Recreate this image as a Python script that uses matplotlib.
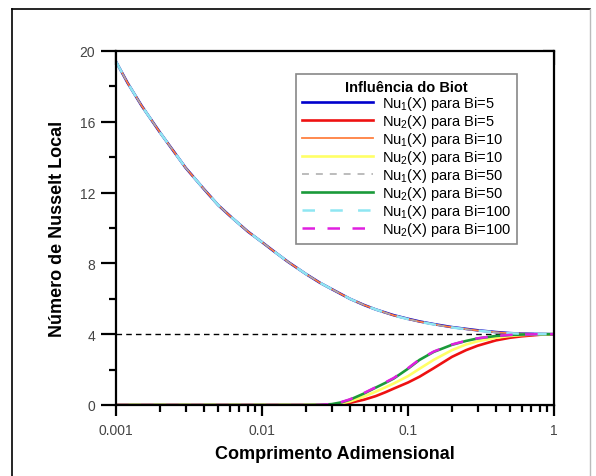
import matplotlib
matplotlib.use("Agg")
import matplotlib.pyplot as plt
from matplotlib.lines import Line2D
from matplotlib.ticker import FixedLocator, NullFormatter

plt.rcParams['font.family'] = ['Liberation Sans', 'DejaVu Sans']
plt.rcParams['mathtext.fontset'] = 'custom'
plt.rcParams['mathtext.rm'] = 'Liberation Sans'
plt.rcParams['mathtext.it'] = 'Liberation Sans:italic'
plt.rcParams['mathtext.bf'] = 'Liberation Sans:bold'
plt.rcParams['lines.scale_dashes'] = False

# ---------------- data ----------------
x_nu1 = [0.001, 0.0012, 0.0015, 0.002, 0.0025, 0.003, 0.004, 0.005, 0.006, 0.008,
         0.01, 0.012, 0.015, 0.02, 0.025, 0.03, 0.04, 0.05, 0.06, 0.08,
         0.1, 0.12, 0.15, 0.2, 0.25, 0.3, 0.4, 0.5, 0.6, 0.8, 1.0]
nu1_bi5 = [19.4, 18.2, 16.9, 15.4, 14.3, 13.4, 12.2, 11.3, 10.7, 9.8,
           9.2, 8.7, 8.1, 7.4, 6.9, 6.55, 6.0, 5.65, 5.4, 5.07,
           4.87, 4.72, 4.57, 4.4, 4.3, 4.22, 4.12, 4.06, 4.03, 4.01, 4.0]
nu1_bi10 = [19.4, 18.2, 16.9, 15.4, 14.3, 13.4, 12.2, 11.3, 10.7, 9.8,
            9.2, 8.7, 8.1, 7.4, 6.9, 6.55, 6.0, 5.65, 5.4, 5.06,
            4.86, 4.71, 4.56, 4.39, 4.29, 4.21, 4.11, 4.05, 4.03, 4.01, 4.0]
nu1_bi50 = [19.4, 18.2, 16.9, 15.4, 14.3, 13.4, 12.2, 11.3, 10.7, 9.8,
            9.2, 8.7, 8.1, 7.4, 6.9, 6.55, 6.0, 5.65, 5.4, 5.05,
            4.85, 4.7, 4.55, 4.38, 4.28, 4.2, 4.1, 4.05, 4.03, 4.01, 4.0]
nu1_bi100 = [19.4, 18.2, 16.9, 15.4, 14.3, 13.4, 12.2, 11.3, 10.7, 9.8,
             9.2, 8.7, 8.1, 7.4, 6.9, 6.55, 6.0, 5.65, 5.4, 5.05,
             4.85, 4.7, 4.55, 4.38, 4.28, 4.2, 4.1, 4.05, 4.03, 4.01, 4.0]

x_nu2 = [0.001, 0.01, 0.02, 0.025, 0.03, 0.035, 0.04, 0.05, 0.06, 0.07, 0.08,
         0.1, 0.12, 0.15, 0.2, 0.25, 0.3, 0.4, 0.5, 0.6, 0.8, 1.0]
nu2_bi5 = [0, 0, 0, 0, 0.02, 0.05, 0.12, 0.3, 0.5, 0.72, 0.93,
           1.27, 1.6, 2.08, 2.72, 3.1, 3.35, 3.65, 3.8, 3.88, 3.97, 4.0]
nu2_bi10 = [0, 0, 0, 0.005, 0.03, 0.09, 0.2, 0.48, 0.75, 1.0, 1.22,
            1.63, 2.05, 2.55, 3.1, 3.42, 3.6, 3.8, 3.9, 3.95, 3.99, 4.0]
nu2_bi50 = [0, 0, 0, 0.01, 0.05, 0.15, 0.3, 0.65, 0.98, 1.25, 1.5,
            2.05, 2.55, 3.0, 3.4, 3.62, 3.76, 3.9, 3.96, 3.98, 4.0, 4.0]
nu2_bi100 = [0, 0, 0, 0.01, 0.06, 0.17, 0.32, 0.68, 1.0, 1.28, 1.53,
             2.08, 2.58, 3.02, 3.42, 3.63, 3.77, 3.9, 3.96, 3.98, 4.0, 4.0]

asymptote = 4.0
x_ticks = [0.001, 0.01, 0.1, 1]
x_ticklabels = ['0.001', '0.01', '0.1', '1']
y_ticks = [0, 4, 8, 12, 16, 20]
labels = ['Nu$_1$(X) para Bi=5', 'Nu$_2$(X) para Bi=5',
          'Nu$_1$(X) para Bi=10', 'Nu$_2$(X) para Bi=10',
          'Nu$_1$(X) para Bi=50', 'Nu$_2$(X) para Bi=50',
          'Nu$_1$(X) para Bi=100', 'Nu$_2$(X) para Bi=100']

# ---------------- figure ----------------
W, H = 596, 477
fig = plt.figure(figsize=(W / 100, H / 100), dpi=100)
L, R, T, B = 116, 554, 52, 406
ax = fig.add_axes([L / W, 1 - B / H, (R - L) / W, (B - T) / H])

ax.plot(x_nu1, nu1_bi5, color='#0000cc', lw=1.9, label=labels[0])
ax.plot(x_nu2, nu2_bi5, color='#ee1111', lw=1.9, label=labels[1])
ax.plot(x_nu1, nu1_bi10, color='#ff8040', lw=1.3, label=labels[2])
ax.plot(x_nu2, nu2_bi10, color='#ffff66', lw=1.9, label=labels[3])
ax.plot(x_nu1, nu1_bi50, color='#aaaaaa', lw=1.1, dashes=(5, 5), label=labels[4])
ax.plot(x_nu2, nu2_bi50, color='#1a9a3a', lw=1.9, label=labels[5])
ax.plot(x_nu1, nu1_bi100, color='#8fe6f2', lw=1.8, dashes=(9, 11), label=labels[6])
ax.plot(x_nu2, nu2_bi100, color='#e020e0', lw=1.8, dashes=(9, 9), label=labels[7])

ax.axhline(asymptote, color='black', lw=1.0, dashes=(4, 3), zorder=0.5)

ax.set_xscale('log')
ax.set_xlim(0.001, 1)
ax.set_ylim(0, 20)
ax.set_xticks(x_ticks)
ax.set_xticklabels(x_ticklabels)
ax.set_yticks(y_ticks)
ax.yaxis.set_minor_locator(FixedLocator([2, 6, 10, 14, 18]))
ax.xaxis.set_minor_formatter(NullFormatter())

for s in ax.spines.values():
    s.set_linewidth(1.6)
ax.tick_params(axis='both', which='major', direction='out', width=1.6,
               labelsize=10, labelcolor='#444444', color='black')
ax.tick_params(axis='x', which='major', length=8, pad=5)
ax.tick_params(axis='y', which='major', length=11, pad=4)
ax.tick_params(axis='x', which='minor', direction='out', length=5, width=1.6)
ax.tick_params(axis='y', which='minor', direction='out', length=5, width=1.6)

ax.set_xlabel('Comprimento Adimensional', fontsize=13, fontweight='bold', labelpad=6)
ax.set_ylabel('Número de Nusselt Local', fontsize=13, fontweight='bold', labelpad=10)

# top/right decorative ticks (inward, linear spacing)
ax2 = fig.add_axes(ax.get_position(), frameon=False)
ax2.set_xlim(0, 1)
ax2.set_ylim(0, 1)
ax2.patch.set_visible(False)
ax2.xaxis.tick_top()
ax2.yaxis.tick_right()
ax2.set_xticks([0, 0.2, 0.4, 0.6, 0.8, 1.0])
ax2.set_xticks([0.1, 0.3, 0.5, 0.7, 0.9], minor=True)
ax2.set_yticks([0, 0.2, 0.4, 0.6, 0.8, 1.0])
ax2.set_yticks([0.1, 0.3, 0.5, 0.7, 0.9], minor=True)
ax2.tick_params(which='both', direction='in', width=1.6, labeltop=False,
                labelright=False, labelbottom=False, labelleft=False)
ax2.tick_params(which='major', length=10)
ax2.tick_params(which='minor', length=6)
ax2.tick_params(axis='y', which='major', length=8)

leg = ax.legend(loc='upper right', bbox_to_anchor=(0.9155, 0.935), fontsize=10.5,
                title='Influência do Biot', title_fontproperties={'weight': 'bold', 'size': 10.5},
                frameon=True, fancybox=False, framealpha=1, edgecolor='#888888',
                handlelength=4.9, labelspacing=0.0, borderpad=0.4,
                handletextpad=0.6, borderaxespad=0)
leg.get_frame().set_linewidth(1.2)
ax2.set_zorder(0)
ax.set_zorder(1)

# outer frame
fx0, fx1 = 12 / W, 590 / W
fy1 = 1 - 10 / H
fig.add_artist(Line2D([fx0, fx0], [0, fy1], transform=fig.transFigure, color='black', lw=1.2))
fig.add_artist(Line2D([fx0, fx1], [fy1, fy1], transform=fig.transFigure, color='black', lw=1.2))
fig.add_artist(Line2D([fx1, fx1], [0, fy1], transform=fig.transFigure, color='#bbbbbb', lw=1.0))

fig.savefig('out.png', dpi=100)
